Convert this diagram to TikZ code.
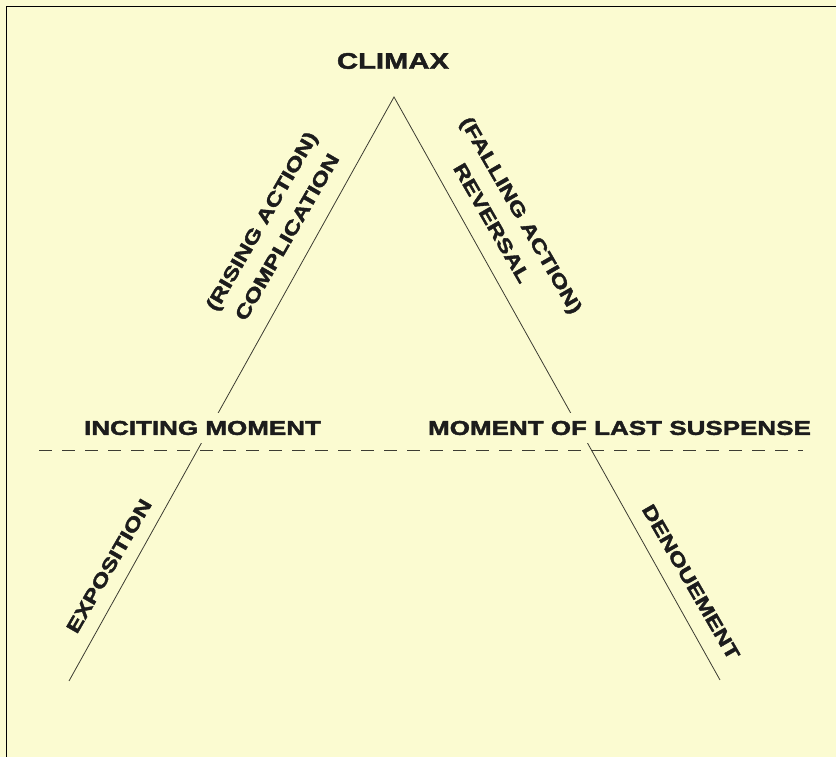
\documentclass[tikz,border=0pt]{standalone}
\usepackage{fontspec}
\setmainfont{Liberation Sans}[FakeStretch=1.3, BoldFeatures={FakeBold=2}]
\usetikzlibrary{calc}

\definecolor{paper}{RGB}{251,251,209}
\definecolor{ink}{RGB}{28,28,28}
\definecolor{pen}{RGB}{60,60,50}

\tikzset{
    stagelabel/.style={font=\bfseries\fontsize{20}{22}\selectfont, text=ink, inner sep=0pt},
    turnlabel/.style={stagelabel, fill=paper, inner xsep=1pt, inner ysep=8pt},
    sidelabel/.style={font=\bfseries\fontsize{19}{20}\selectfont, text=ink, inner sep=0pt},
    arcline/.style={pen, line width=0.8pt},
}

\begin{document}
\begin{tikzpicture}[x=1pt, y=1pt]
    % page and frame
    \fill[paper] (0,0) rectangle (836,757);
    \useasboundingbox (0,0) rectangle (836,757);
    \draw[line width=1.5pt] (6.5,0) -- (6.5,750.5) -- (836,750.5);

    % the triangle of the plot
    \coordinate (apex) at (394,660);
    \coordinate (startfoot) at (69,76);
    \coordinate (endfoot) at (720,77);
    \draw[arcline] (startfoot) -- (apex) -- (endfoot);

    % level of the two turning moments
    \coordinate (dashstart) at (39,307);
    \coordinate (dashend) at (803,307);
    \draw[pen, line width=0.9pt, dash pattern=on 13pt off 10pt] (dashstart) -- (dashend);

    \node[stagelabel, font=\bfseries\fontsize{22.5}{24}\selectfont] (climax) at (393,696) {CLIMAX};
    \node[turnlabel] (inciting) at (202.5,329) {INCITING MOMENT};
    \node[turnlabel] (suspense) at (619.5,329) {MOMENT OF LAST SUSPENSE};

    \node[sidelabel, rotate=60] (rising) at (263,535) {(RISING ACTION)};
    \node[sidelabel, rotate=60] (complication) at (287,520) {COMPLICATION};
    \node[sidelabel, rotate=-60] (falling) at (520,541) {(FALLING ACTION)};
    \node[sidelabel, rotate=-60] (reversal) at (492,534) {REVERSAL};
    \node[sidelabel, rotate=60] (exposition) at (109,191) {EXPOSITION};
    \node[sidelabel, rotate=-60] (denouement) at (691,175) {DENOUEMENT};
\end{tikzpicture}
\end{document}
